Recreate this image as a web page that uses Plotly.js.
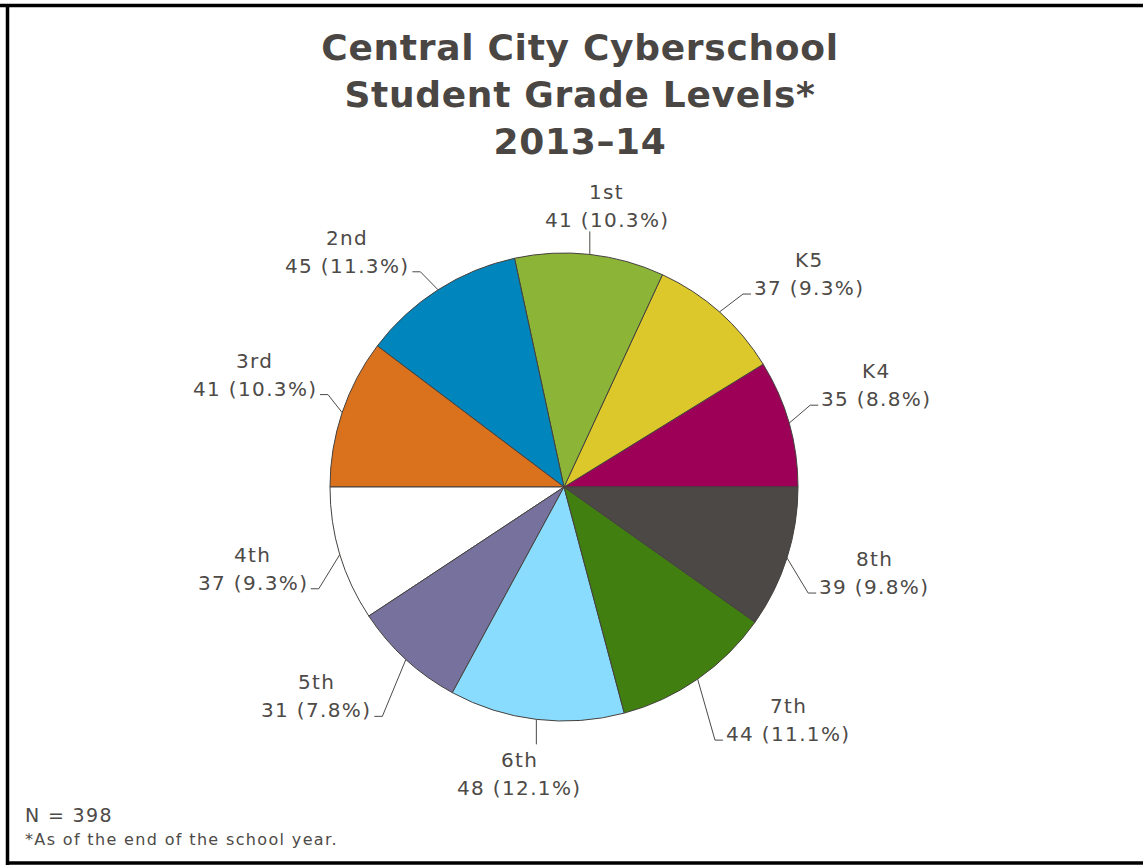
<!DOCTYPE html>
<html><head><meta charset="utf-8">
<script src="https://cdn.plot.ly/plotly-3.0.1.min.js"></script>
<style>
html,body{margin:0;padding:0;background:#fff;}
#chart{width:1143px;height:865px;}
.annotation-text{letter-spacing:1.35px;}
.gtitle{letter-spacing:0.7px;}
</style></head><body><div id="chart"></div>
<script>
// ---- data ----
const grades = ['K4','K5','1st','2nd','3rd','4th','5th','6th','7th','8th'];
const students = [35,37,41,45,41,37,31,48,44,39];
const sliceColors = ['#9c0057','#dcc82a','#8cb437','#0085bd','#da711d','#ffffff','#77719e','#8adcfe','#418010','#4c4845'];
const titleLines = ['Central City Cyberschool','Student Grade Levels*','2013–14'];
const footnote = '*As of the end of the school year.';

// ---- layout constants ----
const W=1143,H=865,CX=564,CY=487,R=234;
const TEXT='#4d4a47', LINE='#4d4a47';
const LBL_SIZE=20, LS=1.35;
const total = students.reduce((a,b)=>a+b,0);

const cv=document.createElement('canvas').getContext('2d');
cv.font=LBL_SIZE+"px 'DejaVu Sans'";
function tw(s){return cv.measureText(s).width + LS*s.length;}
const fx=x=>x/W, fy=y=>1-y/H;

const annotations=[], shapes=[];
function addText(str,x,y,xanchor,size){
  annotations.push({text:str,xref:'paper',yref:'paper',x:fx(x),y:fy(y),xanchor:xanchor||'center',yanchor:'middle',
    showarrow:false,font:{family:'DejaVu Sans',size:size||LBL_SIZE,color:TEXT}});
}
let cum=0;
students.forEach((v,i)=>{
  const a=(cum+v/2)/total*2*Math.PI; cum+=v;
  const c=Math.cos(a), s=Math.sin(a);
  const sx=Math.sign(c), sy=Math.sign(s);
  const E={x:CX+R*c, y:CY-R*s};
  const valStr=v+' ('+(v/total*100).toFixed(1)+'%)';
  let path;
  if(Math.abs(c)<0.3){
    const tx=E.x+17*sx;
    let L;
    if(sy>0){
      L={x:E.x,y:E.y-23};
      addText(valStr,tx,L.y-11); addText(grades[i],tx,L.y-39);
    } else {
      L={x:E.x,y:E.y+25};
      addText(grades[i],tx,L.y+16); addText(valStr,tx,L.y+44);
    }
    path=`M${fx(E.x)},${fy(E.y)} L${fx(L.x)},${fy(L.y)}`;
  } else {
    const off = sy>0 ? 38 : -50*Math.abs(s);
    const T={x:CX+sx*(0.964*R*Math.abs(c)+95.4), y:E.y-off};
    const wv=tw(valStr);
    addText(grades[i],T.x,T.y-14); addText(valStr,T.x,T.y+14);
    const L={x:T.x-sx*(wv/2+3), y:T.y+20};
    const K={x:L.x-sx*8, y:L.y};
    path=`M${fx(E.x)},${fy(E.y)} L${fx(K.x)},${fy(K.y)} L${fx(L.x)},${fy(L.y)}`;
  }
  shapes.push({type:'path',xref:'paper',yref:'paper',path:path,line:{color:LINE,width:1}});
});

addText('N = '+total,23,815,'left',19);
addText(footnote,23,839,'left',16);

// frame
shapes.push({type:'line',xref:'paper',yref:'paper',x0:0,x1:1,y0:fy(5.5),y1:fy(5.5),line:{color:'#000',width:3.5}});
shapes.push({type:'line',xref:'paper',yref:'paper',x0:fx(7.5),x1:fx(7.5),y0:fy(4),y1:fy(865),line:{color:'#000',width:3.5}});
shapes.push({type:'line',xref:'paper',yref:'paper',x0:fx(6),x1:1,y0:fy(863),y1:fy(863),line:{color:'#000',width:3.5}});

// Plotly's counterclockwise pies end the first slice at `rotation`; start K4 at 3 o'clock
const rot = 90 - students[0]/total*360;
const trace={type:'pie',labels:grades,values:students,sort:false,direction:'counterclockwise',rotation:rot,
  marker:{colors:sliceColors,line:{color:'#45413e',width:1}},textinfo:'none',hoverinfo:'none',showlegend:false,
  domain:{x:[(CX-R)/W,(CX+R)/W],y:[1-(CY+R)/H,1-(CY-R)/H]}};

const layout={width:W,height:H,margin:{l:0,r:0,t:0,b:0},paper_bgcolor:'#fff',showlegend:false,
  title:{text:titleLines.join('<br>'),font:{family:'DejaVu Sans',size:36,color:'#4a4643',weight:'bold'},
    x:580/W,xanchor:'center',xref:'container',y:1-60/H,yanchor:'top',yref:'container'},
  annotations:annotations,shapes:shapes};
Plotly.newPlot('chart',[trace],layout,{staticPlot:true,displayModeBar:false});
</script></body></html>
